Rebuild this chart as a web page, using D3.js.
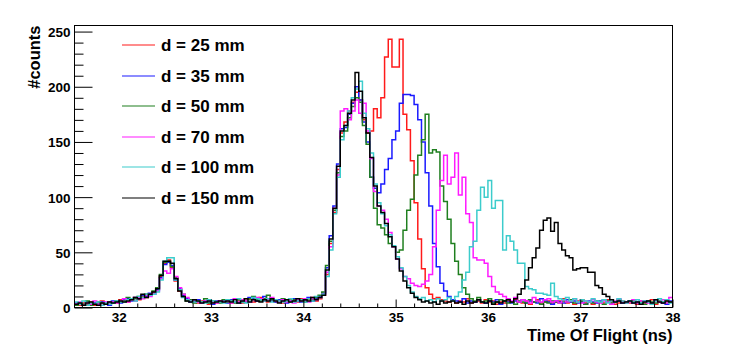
<!DOCTYPE html>
<html>
<head>
<meta charset="utf-8">
<script src="https://cdn.jsdelivr.net/npm/d3@7"></script>
<style>
  body { margin: 0; background: #fff; }
  text { font-family: "Liberation Sans", Arial, Helvetica, sans-serif; font-weight: bold; fill: #000; }
</style>
</head>
<body>
<div id="chart"></div>
<script>
// histogram binning: 0.04 ns bins starting at 31.52 ns
const binStart = 31.52
const binWidth = 0.04

const labels = ['d = 25 mm', 'd = 35 mm', 'd = 50 mm', 'd = 70 mm', 'd = 100 mm', 'd = 150 mm']
const colors = ['#ff1a1a', '#1a1aff', '#1f7f1f', '#ff1aff', '#3ccccc', '#000000']

const d25 = [
  3,2,4,3,5,2,4,6,3,4, 5,4,7,6,5,8,9,7,10,9,
  12,14,17,28,40,43,36,24,15,10, 7,6,5,4,6,5,3,5,4,6,
  5,7,4,5,6,4,8,7,5,6, 9,6,5,7,5,6,4,5,7,6,
  5,8,6,7,9,6,8,11,30,58, 86,125,158,168,178,186,195,188,170,158,
  160,180,172,190,227,243,218,218,243,175, 161,133,95,62,35,18,12,8,9,7,
  6,5,7,4,6,5,8,4,5,6, 4,7,5,6,3,5,4,6,5,7,
  5,4,6,3,5,7,4,5,6,4, 5,6,8,4,5,3,6,7,4,5,
  3,6,5,4,7,5,3,4,6,5, 4,5,3,6,4,5,7,3,5,4,6,5
]
const d35 = [
  4,3,2,5,3,4,3,5,4,2, 6,5,4,7,8,6,9,8,11,10,
  13,12,16,27,39,41,38,25,17,11, 8,5,6,7,4,6,5,3,6,5,
  6,4,7,5,4,6,5,9,8,6, 7,10,8,6,5,7,6,4,6,8,
  6,5,7,9,6,8,10,13,36,65, 92,130,162,163,175,185,200,188,168,150,
  118,108,104,112,125,135,152,160,185,193, 193,192,184,170,150,122,92,58,37,22,
  15,10,7,6,5,8,4,6,5,7, 5,4,6,5,7,3,6,5,4,6,
  5,7,4,6,5,4,8,6,5,3, 6,5,4,7,5,6,4,5,3,6,
  5,4,6,7,5,3,5,6,4,5, 6,4,5,3,6,5,4,7,5,4,3,6
]
const d50 = [
  2,4,3,6,2,3,5,4,3,5, 4,6,5,6,9,7,8,10,9,12,
  11,15,18,30,41,42,37,27,16,12, 6,7,4,5,5,8,4,6,5,4,
  7,5,6,4,7,5,6,8,10,7, 6,8,11,7,6,5,8,6,5,7,
  7,6,5,8,7,9,11,14,38,60, 88,122,155,160,172,182,190,186,165,148,
  118,90,75,72,66,58,55,50,52,70, 88,98,120,138,152,175,140,143,141,110,
  96,80,58,42,30,18,12,8,6,9, 5,6,8,4,5,7,6,4,5,3,
  6,5,4,7,5,6,3,5,4,6, 5,4,6,5,7,4,5,6,3,5,
  4,6,5,3,6,4,5,7,5,4, 5,6,4,5,3,6,5,4,6,5,4,5
]
const d70 = [
  3,5,2,4,3,6,3,2,5,4, 5,4,6,8,5,7,6,9,8,11,
  10,13,15,26,33,31,35,28,18,12, 9,6,7,5,4,6,7,5,4,6,
  5,6,4,8,5,7,6,5,7,9, 8,6,7,9,6,5,7,5,6,4,
  7,6,8,5,8,7,9,12,32,55, 90,120,178,180,170,178,188,176,185,160,
  135,105,92,88,80,68,55,44,35,28, 26,22,20,19,21,24,30,55,88,115,
  138,112,118,140,102,118,85,77,45,43, 43,40,28,19,14,12,10,8,6,9,
  5,7,6,4,9,6,5,7,8,5, 6,4,7,5,6,8,5,4,6,5,
  7,5,4,6,5,3,6,8,5,4, 5,7,4,6,5,4,3,6,5,7,4,9
]
const d100 = [
  5,3,6,2,4,3,5,2,4,3, 4,6,5,5,7,8,6,10,9,12,
  11,12,14,25,42,45,45,25,16,9, 7,6,5,6,5,4,7,6,5,5,
  4,7,6,5,8,5,4,6,9,8, 7,6,8,5,7,6,5,6,8,5,
  6,7,5,8,6,10,9,12,28,52, 85,118,152,165,178,190,198,205,176,162,
  140,112,95,85,74,66,56,46,36,28, 20,14,10,8,9,6,7,5,8,6,
  7,9,6,10,14,25,32,55,60,88, 109,100,115,90,97,97,52,65,60,52,
  40,40,19,17,16,13,13,12,11,22, 10,8,7,9,6,8,5,7,6,5,
  8,6,5,7,4,6,5,8,6,4, 6,5,7,4,6,5,3,6,8,5,7,4
]
const d150 = [
  3,4,2,4,5,3,2,4,3,5, 4,5,6,5,6,7,9,8,12,9,
  12,14,17,29,42,42,40,26,15,10, 6,5,7,6,4,5,6,4,5,6,
  5,6,5,7,4,6,8,5,7,6, 5,7,6,8,6,4,6,7,5,6,
  8,6,7,6,9,7,9,11,34,62, 90,128,160,165,176,188,213,196,172,158,
  136,110,92,86,76,64,55,44,33,24, 18,13,9,7,5,6,4,5,3,6,
  4,5,6,4,5,3,6,4,5,7, 5,4,6,3,5,4,6,7,5,8,
  12,17,25,36,45,54,70,79,81,69, 77,58,52,47,45,34,35,36,36,32,
  32,20,18,12,10,7,5,6,4,5, 6,4,5,3,5,6,4,7,5,4,6,5
]
const series = [d25, d35, d50, d70, d100, d150]

const xTicks = [32, 33, 34, 35, 36, 37, 38]
const yTicks = [0, 50, 100, 150, 200, 250]

const WIDTH = 747
const HEIGHT = 352
const frameL = 74.5, frameR = 672.5, frameT = 25.5, frameB = 307.5

const svg = d3.select('#chart').append('svg')
  .attr('width', WIDTH)
  .attr('height', HEIGHT)

const x = d3.scaleLinear().domain([31.52, 38]).range([frameL, frameR])
const y = d3.scaleLinear().domain([0, 255.5]).range([frameB, frameT])

svg.append('clipPath').attr('id', 'frame')
  .append('rect')
  .attr('x', frameL).attr('y', frameT)
  .attr('width', frameR - frameL).attr('height', frameB - frameT)

// histograms as step outlines
const line = d3.line()
  .x(d => x(d[0]))
  .y(d => y(d[1]))
  .curve(d3.curveStepAfter)

const g = svg.append('g').attr('clip-path', 'url(#frame)')
series.forEach((vals, i) => {
  const pts = vals.map((v, k) => [binStart + k * binWidth, v])
  pts.push([binStart + vals.length * binWidth, vals[vals.length - 1]])
  g.append('path')
    .attr('d', line(pts))
    .attr('fill', 'none')
    .attr('stroke', colors[i])
    .attr('stroke-width', 1.5)
})

// y axis: major + minor ticks pointing inward
const yMinor = d3.range(0, 256, 10).filter(v => v % 50 !== 0)
svg.append('g')
  .attr('transform', `translate(${frameL},0)`)
  .call(d3.axisLeft(y).tickValues(yMinor).tickSize(-9).tickFormat(''))
  .call(a => a.select('.domain').remove())
svg.append('g')
  .attr('transform', `translate(${frameL},0)`)
  .call(d3.axisLeft(y).tickValues(yTicks).tickSize(-18).tickPadding(4).tickFormat(d3.format('d')))
  .call(a => a.select('.domain').remove())
  .call(a => a.selectAll('text').style('font-size', '13.5px').attr('dy', '0.36em'))

// x axis
const xMinor = d3.range(31.6, 38.01, 0.2).filter(v => Math.abs(v - Math.round(v)) > 0.01)
svg.append('g')
  .attr('transform', `translate(0,${frameB})`)
  .call(d3.axisBottom(x).tickValues(xMinor).tickSize(-4).tickFormat(''))
  .call(a => a.select('.domain').remove())
svg.append('g')
  .attr('transform', `translate(0,${frameB})`)
  .call(d3.axisBottom(x).tickValues(xTicks).tickSize(-8).tickPadding(5).tickFormat(d3.format('d')))
  .call(a => a.select('.domain').remove())
  .call(a => a.selectAll('text').style('font-size', '13.5px'))

svg.selectAll('.tick line').attr('stroke', '#000')

// frame
svg.append('rect')
  .attr('x', frameL).attr('y', frameT)
  .attr('width', frameR - frameL).attr('height', frameB - frameT)
  .attr('fill', 'none')
  .attr('stroke', '#000')

// axis titles
svg.append('text')
  .attr('x', frameR).attr('y', 341)
  .attr('text-anchor', 'end')
  .style('font-size', '16.5px')
  .text('Time Of Flight (ns)')

svg.append('text')
  .attr('transform', `translate(40,${frameT}) rotate(-90)`)
  .attr('text-anchor', 'end')
  .style('font-size', '16.5px')
  .text('#counts')

// legend
const legend = svg.append('g')
labels.forEach((lab, i) => {
  const ly = Math.round(45 + i * 30.5)
  legend.append('line')
    .attr('x1', 122).attr('x2', 155)
    .attr('y1', ly).attr('y2', ly)
    .attr('stroke', colors[i])
    .attr('stroke-width', 1.2)
  legend.append('text')
    .attr('x', 161).attr('y', ly + 6)
    .style('font-size', '17px')
    .text(lab)
})
</script>
</body>
</html>
